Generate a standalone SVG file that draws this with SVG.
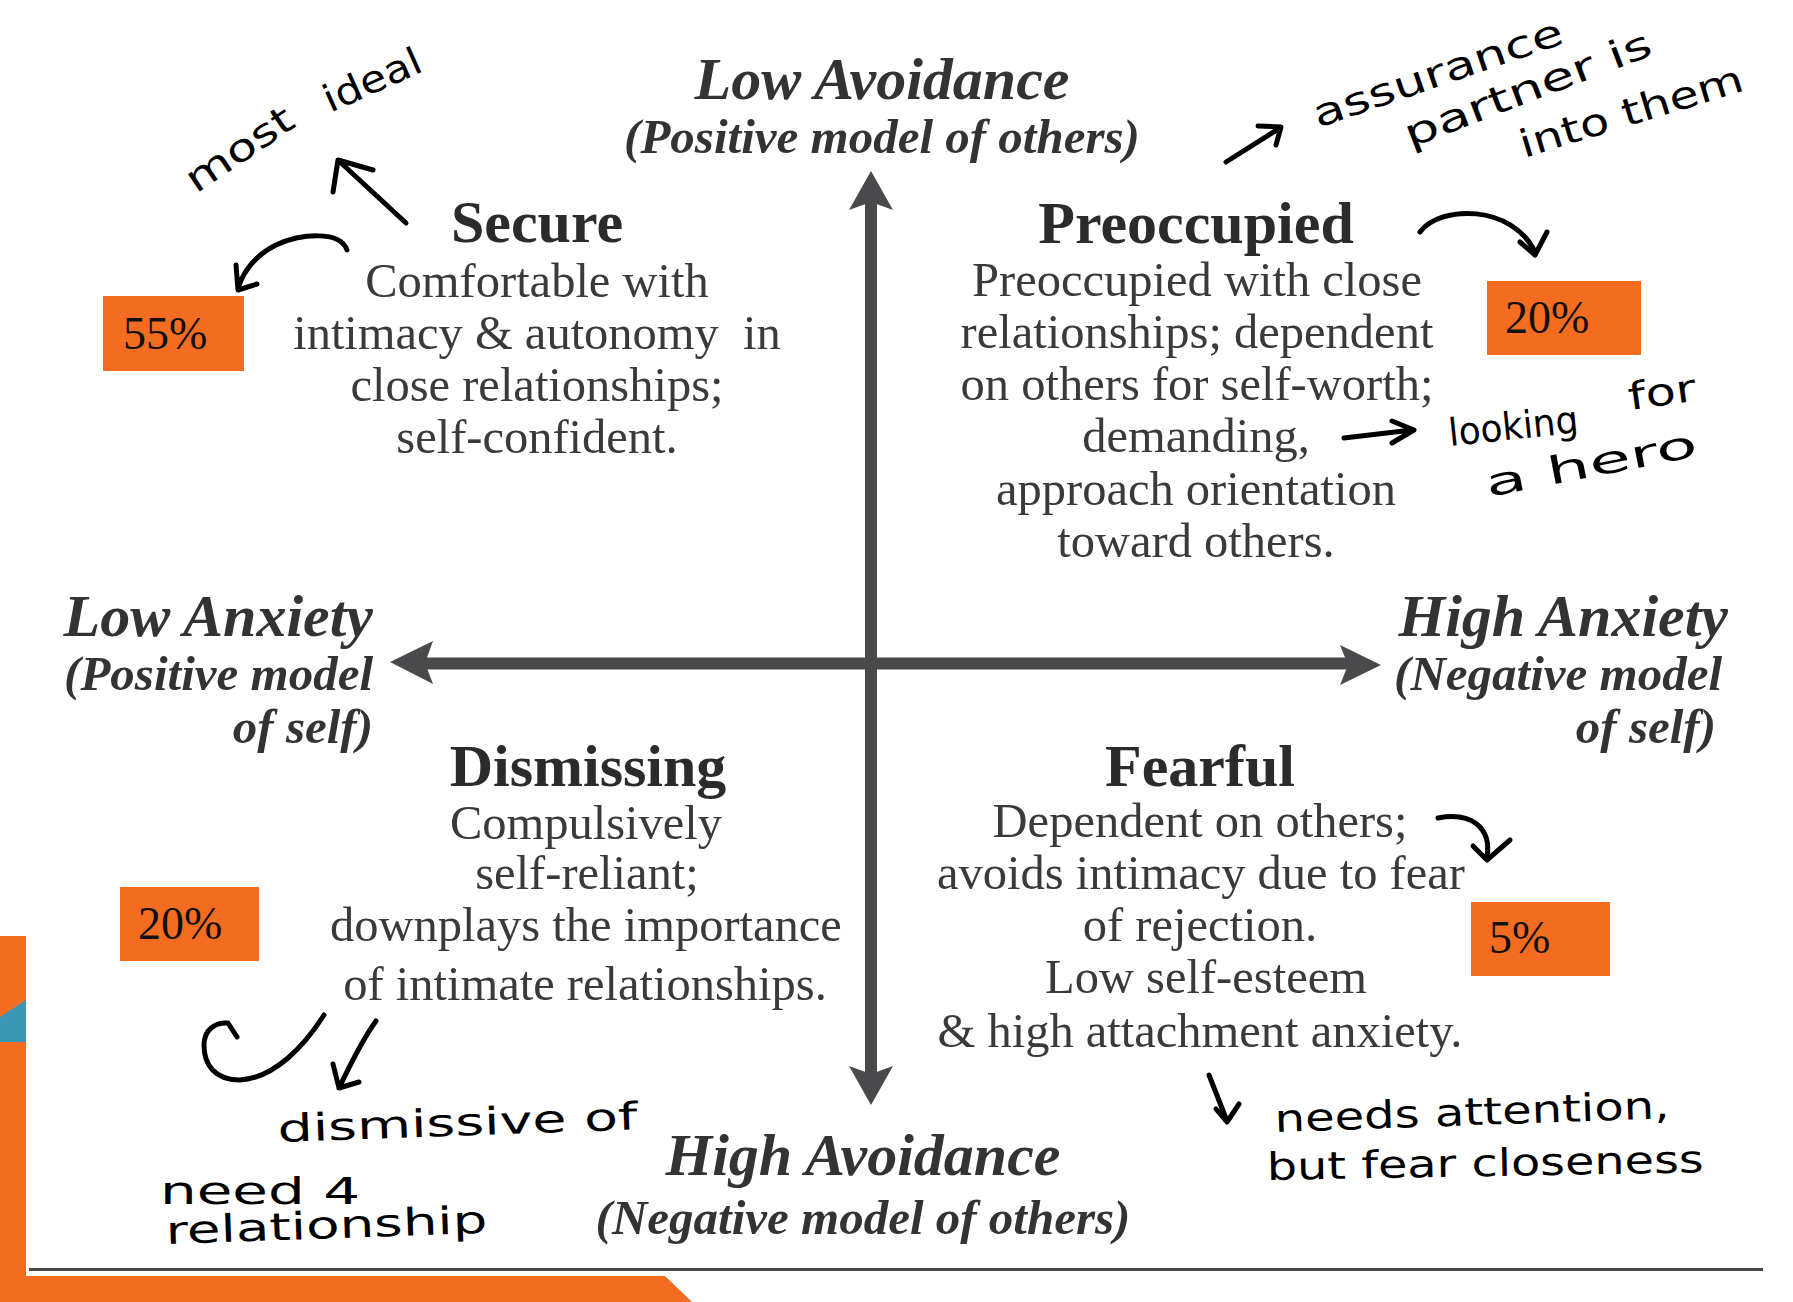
<svg xmlns="http://www.w3.org/2000/svg" width="1793" height="1302" viewBox="0 0 1793 1302">
<style>
.title{font-family:"Liberation Serif",serif;font-weight:bold;font-size:60px;fill:#2b2b2b;text-anchor:middle}
.body{font-family:"Liberation Serif",serif;font-size:48.5px;fill:#3a3a3a;text-anchor:middle;white-space:pre}
.axis{font-family:"Liberation Serif",serif;font-weight:bold;font-style:italic;font-size:60px;fill:#333}
.axsub{font-family:"Liberation Serif",serif;font-weight:bold;font-style:italic;font-size:49px;fill:#333}
.pct{font-family:"Liberation Serif",serif;font-size:46px;fill:#111}
.box{fill:#F46C20}
.ink{fill:none;stroke:#000;stroke-width:5;stroke-linecap:round;stroke-linejoin:round}
.hand{font-family:"DejaVu Sans",sans-serif;font-size:38px;fill:#000}
.axl{stroke:#4a4a4c;stroke-width:12;fill:none}
.head{fill:#4a4a4c}
</style>
<rect width="1793" height="1302" fill="#fff"/>
<g id="decoration">
<rect x="0" y="936" width="26" height="366" fill="#F46C20"/>
<polygon points="0,1017 26,1000 26,1042 0,1042" fill="#3A98B5"/>
<polygon points="0,1276 665,1276 692,1302 0,1302" fill="#F46C20"/>
<line x1="29" y1="1269.5" x2="1763" y2="1269.5" stroke="#48484c" stroke-width="3"/>
</g>
<g id="connectors">
<line class="axl" x1="871" y1="200" x2="871" y2="1076"/>
<line class="axl" x1="420" y1="663.5" x2="1352" y2="663.5"/>
<polygon class="head" points="871,171 893,210 871,202 849,210"/>
<polygon class="head" points="871,1105 893,1066 871,1074 849,1066"/>
<polygon class="head" points="390,662 433,641 425,663 433,684"/>
<polygon class="head" points="1381,665 1340,645 1348,665 1340,685"/>
</g>
<g id="low-avoidance">
<text class="axis" x="882" y="99" text-anchor="middle">Low Avoidance</text>
<text class="axsub" x="882" y="153" text-anchor="middle">(Positive model of others)</text>
</g>
<g id="high-avoidance">
<text class="axis" x="863" y="1175" text-anchor="middle">High Avoidance</text>
<text class="axsub" x="863" y="1234" text-anchor="middle">(Negative model of others)</text>
</g>
<g id="low-anxiety">
<text class="axis" x="373" y="636" text-anchor="end">Low Anxiety</text>
<text class="axsub" x="373" y="690" text-anchor="end">(Positive model</text>
<text class="axsub" x="373" y="743" text-anchor="end">of self)</text>
</g>
<g id="high-anxiety">
<text class="axis" x="1728" y="636" text-anchor="end">High Anxiety</text>
<text class="axsub" x="1722" y="690" text-anchor="end">(Negative model</text>
<text class="axsub" x="1716" y="743" text-anchor="end">of self)</text>
</g>
<g id="secure">
<text class="title" x="537" y="242">Secure</text>
<text class="body" x="537" y="297">Comfortable with</text>
<text class="body" x="537" y="349">intimacy &amp; autonomy  in</text>
<text class="body" x="537" y="401">close relationships;</text>
<text class="body" x="537" y="453">self-confident.</text>
<rect class="box" x="103" y="296" width="141" height="75"/>
<text class="pct" x="123" y="349">55%</text>
</g>
<g id="preoccupied">
<text class="title" x="1196" y="243">Preoccupied</text>
<text class="body" x="1197" y="296">Preoccupied with close</text>
<text class="body" x="1197" y="348">relationships; dependent</text>
<text class="body" x="1197" y="400">on others for self-worth;</text>
<text class="body" x="1196" y="452">demanding,</text>
<text class="body" x="1196" y="505">approach orientation</text>
<text class="body" x="1196" y="557">toward others.</text>
<rect class="box" x="1487" y="281" width="154" height="74"/>
<text class="pct" x="1505" y="333">20%</text>
</g>
<g id="dismissing">
<text class="title" x="588" y="786">Dismissing</text>
<text class="body" x="586" y="839">Compulsively</text>
<text class="body" x="587" y="889">self-reliant;</text>
<text class="body" x="586" y="941">downplays the importance</text>
<text class="body" x="585" y="1000">of intimate relationships.</text>
<rect class="box" x="120" y="887" width="139" height="74"/>
<text class="pct" x="138" y="939">20%</text>
</g>
<g id="fearful">
<text class="title" x="1200" y="786">Fearful</text>
<text class="body" x="1200" y="837">Dependent on others;</text>
<text class="body" x="1201" y="889">avoids intimacy due to fear</text>
<text class="body" x="1200" y="941">of rejection.</text>
<text class="body" x="1206" y="993">Low self-esteem</text>
<text class="body" x="1200" y="1047">&amp; high attachment anxiety.</text>
<rect class="box" x="1471" y="902" width="139" height="74"/>
<text class="pct" x="1489" y="953">5%</text>
</g>
<g id="annotations">
<path class="ink" d="M406 223 L339 161 M333 192 L338 160 L373 170"/>
<path class="ink" d="M347 250 C 340 230, 300 234, 276 245 C 256 255, 244 270, 238 288 M236 265 L238 290 L257 284"/>
<text class="hand" transform="translate(196,194) rotate(-34)" textLength="122" lengthAdjust="spacingAndGlyphs">most</text>
<text class="hand" transform="translate(330,113) rotate(-24)" textLength="104" lengthAdjust="spacingAndGlyphs">ideal</text>
<path class="ink" d="M1226 162 L1280 128 M1258 126 L1281 127 L1276 145"/>
<text class="hand" transform="translate(1318,128) rotate(-19)" textLength="262" lengthAdjust="spacingAndGlyphs">assurance</text>
<text class="hand" transform="translate(1410,148) rotate(-21)" textLength="262" lengthAdjust="spacingAndGlyphs">partner is</text>
<text class="hand" transform="translate(1524,158) rotate(-17)" textLength="232" lengthAdjust="spacingAndGlyphs">into them</text>
<path class="ink" d="M1420 232 C 1440 205, 1512 204, 1535 252 M1520 242 L1535 255 L1547 232"/>
<path class="ink" d="M1344 438 L1412 430 M1392 421 L1414 430 L1392 443"/>
<text class="hand" transform="translate(1450,446) rotate(-6)" textLength="130" lengthAdjust="spacingAndGlyphs">looking</text>
<text class="hand" transform="translate(1630,410) rotate(-8)" textLength="68" lengthAdjust="spacingAndGlyphs">for</text>
<text class="hand" transform="translate(1488,497) rotate(-11)" textLength="215" lengthAdjust="spacingAndGlyphs">a hero</text>
<path class="ink" d="M324 1015 C 305 1045, 275 1078, 240 1080 C 215 1080, 204 1065, 204 1045 C 204 1030, 215 1022, 228 1023 L 237 1037"/>
<path class="ink" d="M376 1021 C 362 1040, 350 1065, 339 1088 M333 1064 L339 1088 L359 1082"/>
<text class="hand" transform="translate(278,1142) rotate(-2)" textLength="360" lengthAdjust="spacingAndGlyphs">dismissive of</text>
<text class="hand" transform="translate(160,1204)" textLength="200" lengthAdjust="spacingAndGlyphs">need 4</text>
<text class="hand" transform="translate(166,1244) rotate(-2)" textLength="322" lengthAdjust="spacingAndGlyphs">relationship</text>
<path class="ink" d="M1438 818 C 1470 812, 1492 826, 1487 858 M1473 846 L1487 860 L1510 840"/>
<path class="ink" d="M1209 1075 L1227 1121 M1216 1109 L1227 1122 L1239 1104"/>
<text class="hand" transform="translate(1275,1132) rotate(-2)" textLength="395" lengthAdjust="spacingAndGlyphs">needs attention,</text>
<text class="hand" transform="translate(1267,1180) rotate(-1)" textLength="437" lengthAdjust="spacingAndGlyphs">but fear closeness</text>
</g>
</svg>
